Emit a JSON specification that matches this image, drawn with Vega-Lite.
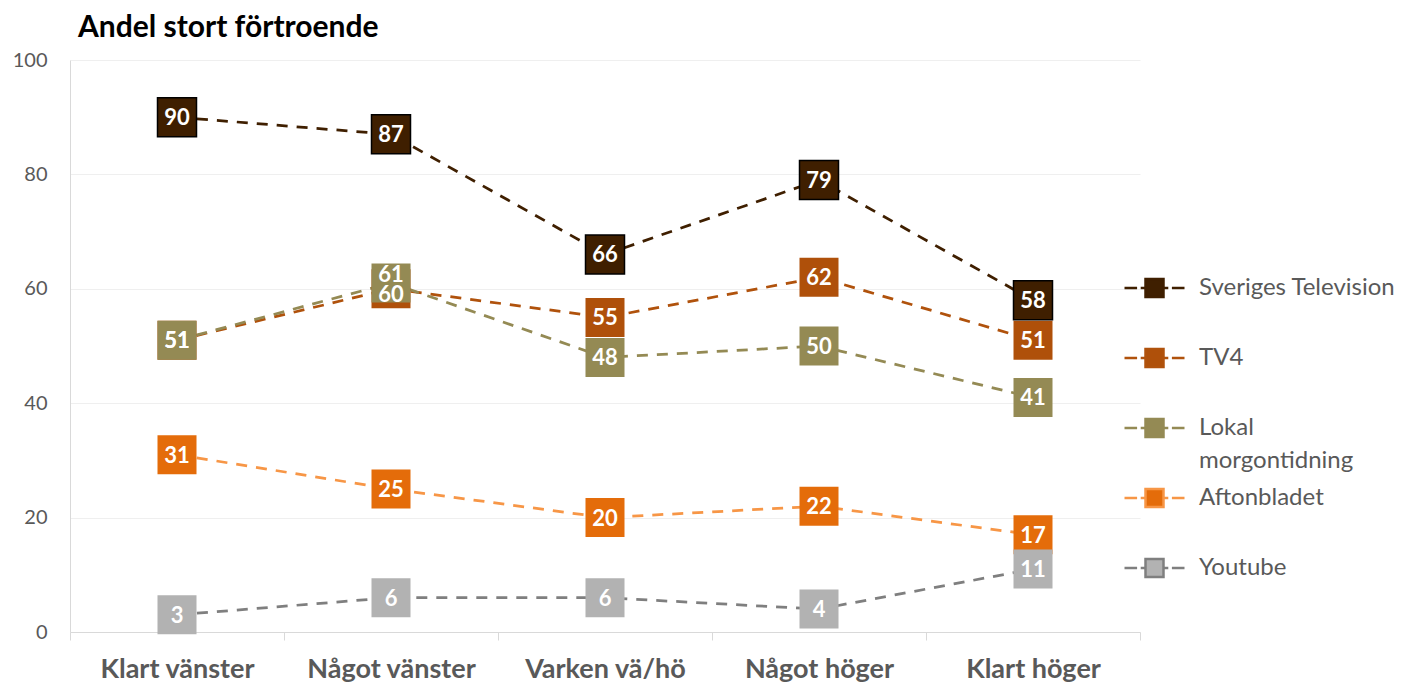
{
  "$schema": "https://vega.github.io/schema/vega-lite/v6.json",
  "autosize": {"type": "none"},
  "padding": {"left": 70, "top": 60, "right": 264, "bottom": 52},
  "width": 1070,
  "height": 572,
  "background": "white",
  "title": {
    "text": "Andel stort förtroende",
    "anchor": "start",
    "frame": "group",
    "font": "Lato",
    "fontSize": 30,
    "fontWeight": "bold",
    "color": "#000000",
    "dx": 8,
    "offset": 7
  },
  "config": {
    "view": {"stroke": null},
    "font": "Lato"
  },
  "data": {
    "values": [
      {"cat": "Klart vänster", "series": "Sveriges Television", "v": 90},
      {"cat": "Något vänster", "series": "Sveriges Television", "v": 87},
      {"cat": "Varken vä/hö", "series": "Sveriges Television", "v": 66},
      {"cat": "Något höger", "series": "Sveriges Television", "v": 79},
      {"cat": "Klart höger", "series": "Sveriges Television", "v": 58},
      {"cat": "Klart vänster", "series": "TV4", "v": 51},
      {"cat": "Något vänster", "series": "TV4", "v": 60},
      {"cat": "Varken vä/hö", "series": "TV4", "v": 55},
      {"cat": "Något höger", "series": "TV4", "v": 62},
      {"cat": "Klart höger", "series": "TV4", "v": 51},
      {"cat": "Klart vänster", "series": "Lokal morgontidning", "v": 51},
      {"cat": "Något vänster", "series": "Lokal morgontidning", "v": 61},
      {"cat": "Varken vä/hö", "series": "Lokal morgontidning", "v": 48},
      {"cat": "Något höger", "series": "Lokal morgontidning", "v": 50},
      {"cat": "Klart höger", "series": "Lokal morgontidning", "v": 41},
      {"cat": "Klart vänster", "series": "Aftonbladet", "v": 31},
      {"cat": "Något vänster", "series": "Aftonbladet", "v": 25},
      {"cat": "Varken vä/hö", "series": "Aftonbladet", "v": 20},
      {"cat": "Något höger", "series": "Aftonbladet", "v": 22},
      {"cat": "Klart höger", "series": "Aftonbladet", "v": 17},
      {"cat": "Klart vänster", "series": "Youtube", "v": 3},
      {"cat": "Något vänster", "series": "Youtube", "v": 6},
      {"cat": "Varken vä/hö", "series": "Youtube", "v": 6},
      {"cat": "Något höger", "series": "Youtube", "v": 4},
      {"cat": "Klart höger", "series": "Youtube", "v": 11}
    ]
  },
  "encoding": {
    "x": {
      "field": "cat",
      "type": "nominal",
      "bandPosition": 0.5,
      "sort": ["Klart vänster", "Något vänster", "Varken vä/hö", "Något höger", "Klart höger"],
      "scale": {"type": "band", "paddingInner": 0, "paddingOuter": 0},
      "axis": {
        "title": null,
        "labelAngle": 0,
        "tickBand": "extent",
        "ticks": true,
        "tickSize": 8,
        "tickColor": "#D9D9D9",
        "domainColor": "#D9D9D9",
        "labelFont": "Lato",
        "labelFontSize": 27,
        "labelFontWeight": "bold",
        "labelColor": "#595959",
        "labelPadding": 16,
        "grid": false
      }
    },
    "y": {
      "field": "v",
      "type": "quantitative",
      "scale": {"domain": [0, 100], "nice": false},
      "axis": {
        "title": null,
        "values": [0, 20, 40, 60, 80, 100],
        "grid": true,
        "gridColor": "#EFEFEF",
        "ticks": false,
        "domainColor": "#D9D9D9",
        "labelFont": "Lato",
        "labelFontSize": 20,
        "labelColor": "#595959",
        "labelPadding": 23
      }
    }
  },
  "layer": [
    {
      "mark": {"type": "line", "strokeWidth": 2.75, "strokeDash": [11, 9]},
      "encoding": {
        "stroke": {
          "field": "series",
          "type": "nominal",
          "scale": {
            "domain": ["Youtube", "Aftonbladet", "Lokal morgontidning", "TV4", "Sveriges Television"],
            "range": ["#7F7F7F", "#F79646", "#948A54", "#B0520C", "#3F1F00"]
          },
          "legend": null
        }
      }
    },
    {
      "mark": {"type": "point", "shape": "square", "filled": true, "size": 1521, "opacity": 1},
      "encoding": {
        "fill": {
          "field": "series",
          "type": "nominal",
          "scale": {
            "domain": ["Sveriges Television", "TV4", "Lokal morgontidning", "Aftonbladet", "Youtube"],
            "range": ["#3F1F00", "#AF500A", "#948A54", "#E46C0A", "#B2B2B2"]
          },
          "legend": {
            "orient": "none",
            "legendX": 1053,
            "legendY": 208,
            "padding": 0,
            "title": null,
            "symbolType": "M-1,0H-0.58M-0.46,0H-0.3M0.3,0H0.46M0.58,0H1M-0.3,-0.3H0.3V0.3H-0.3Z",
            "symbolSize": 3600,
            "symbolStrokeWidth": 2.5,
            "symbolStrokeColor": {"expr": "scale('stroke', datum.value)"},
            "symbolOpacity": 1,
            "labelFont": "Lato",
            "labelFontSize": 24,
            "labelColor": "#595959",
            "labelOffset": 13,
            "labelLimit": 400,
            "rowPadding": 5,
            "clipHeight": 40,
            "labelExpr": "datum.label == 'Lokal morgontidning' ? ['Lokal', 'morgontidning'] : [datum.label, ' ']",
            "encode": {
              "labels": {"update": {"lineHeight": {"value": 33}}}
            }
          }
        }
      }
    },
    {
      "transform": [{"filter": "datum.series == 'Sveriges Television'"}],
      "mark": {"type": "point", "shape": "square", "filled": false, "size": 1521, "opacity": 1, "stroke": "#000000", "strokeWidth": 1.5}
    },
    {
      "transform": [{"filter": "!(datum.cat == 'Något vänster' && (datum.series == 'TV4' || datum.series == 'Lokal morgontidning'))"}],
      "mark": {"type": "text", "font": "Lato", "fontSize": 22, "fontWeight": "bold", "fill": "#FFFFFF", "align": "center", "baseline": "middle", "dy": 1},
      "encoding": {
        "text": {"field": "v", "type": "quantitative"}
      }
    },
    {
      "transform": [{"filter": "datum.cat == 'Något vänster' && datum.series == 'Lokal morgontidning'"}],
      "mark": {"type": "text", "font": "Lato", "fontSize": 22, "fontWeight": "bold", "fill": "#FFFFFF", "align": "center", "baseline": "middle", "dy": -8},
      "encoding": {
        "text": {"field": "v", "type": "quantitative"}
      }
    },
    {
      "transform": [{"filter": "datum.cat == 'Något vänster' && datum.series == 'TV4'"}],
      "mark": {"type": "text", "font": "Lato", "fontSize": 22, "fontWeight": "bold", "fill": "#FFFFFF", "align": "center", "baseline": "middle", "dy": 6},
      "encoding": {
        "text": {"field": "v", "type": "quantitative"}
      }
    }
  ]
}
